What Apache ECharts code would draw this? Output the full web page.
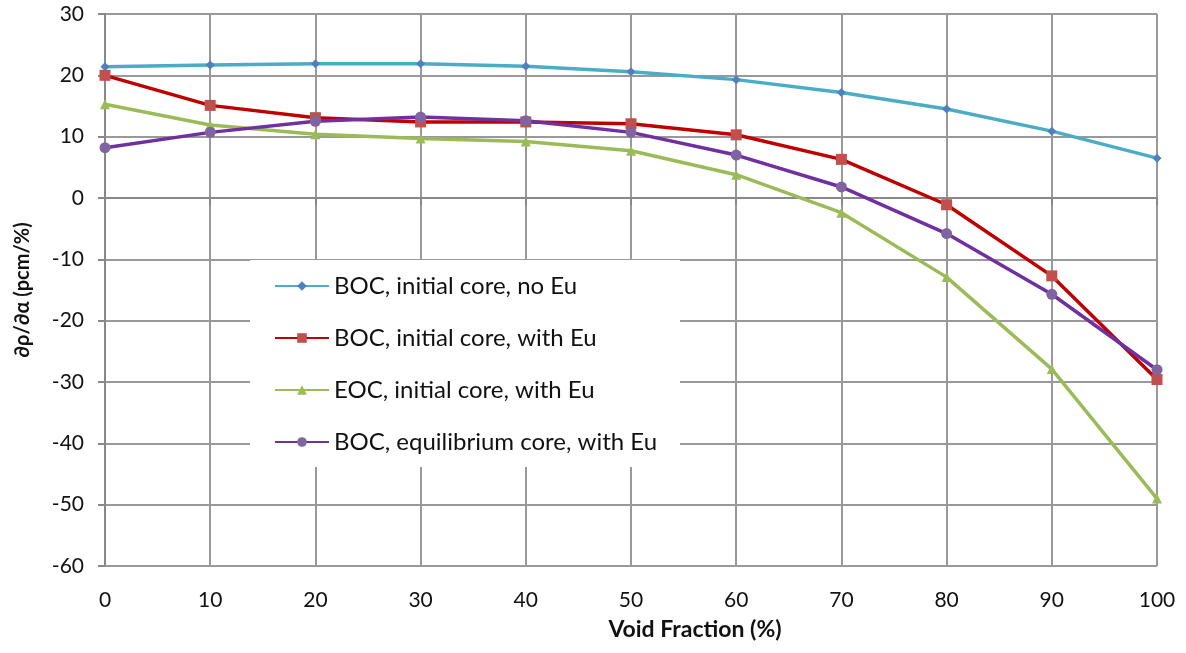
<!DOCTYPE html>
<html><head><meta charset="utf-8">
<script src="https://cdn.jsdelivr.net/npm/echarts@6/dist/echarts.min.js"></script>
<style>html,body{margin:0;padding:0;background:#fff}#c{width:1186px;height:653px}</style>
</head><body><div id="c"></div>
<script>
const voidFraction = [0,10,20,30,40,50,60,70,80,90,100];
const bocInitialNoEu = [21.4,21.7,21.9,21.9,21.5,20.6,19.3,17.2,14.5,10.9,6.5];
const bocInitialWithEu = [20.0,15.1,13.1,12.4,12.4,12.1,10.3,6.3,-1.1,-12.7,-29.6];
const eocInitialWithEu = [15.3,11.9,10.4,9.7,9.2,7.7,3.8,-2.4,-12.9,-27.9,-49.0];
const bocEquilibriumWithEu = [8.2,10.7,12.5,13.2,12.6,10.7,7.0,1.8,-5.8,-15.7,-28.0];
const seriesNames = ['BOC, initial core, no Eu','BOC, initial core, with Eu','EOC, initial core, with Eu','BOC, equilibrium core, with Eu'];

const pair = arr => voidFraction.map((x,i)=>[x,arr[i]]);
const font = 'Lato, "Open Sans", sans-serif';
const chart = echarts.init(document.getElementById('c'), null, {renderer:'canvas'});
const mk = (name, data, lineColor, markColor, symbol, size) => ({
  name, type:'line', data: pair(data), symbol, symbolSize:size, showSymbol:true,
  lineStyle:{color:lineColor,width:3.5}, itemStyle:{color:markColor,borderWidth:0},
  emphasis:{disabled:true}, animation:false, z: 3
});
chart.setOption({
  animation:false,
  textStyle:{fontFamily:font},
  grid:{left:105,right:29,top:14,bottom:87,containLabel:false},
  legend:{
    orient:'vertical', left:250, top:260, itemWidth:54, itemHeight:12, itemGap:28,
    backgroundColor:'#fff', padding:[14,23,13,24],
    textStyle:{fontFamily:font,fontSize:24,color:'#111'},
    data:seriesNames
  },
  xAxis:{type:'value',min:0,max:100,interval:10,
    name:'Void Fraction (%)',nameLocation:'middle',nameGap:52,
    nameTextStyle:{fontFamily:font,fontSize:23,fontWeight:'bold',color:'#111',padding:[0,0,0,128]},
    axisLine:{show:true,lineStyle:{color:'#888',width:2}},
    axisTick:{show:true,length:7,lineStyle:{color:'#888',width:2}},
    axisLabel:{fontFamily:font,fontSize:21,color:'#111',margin:24},
    splitLine:{show:true,lineStyle:{color:'#999',width:2}}
  },
  yAxis:{type:'value',min:-60,max:30,interval:10,
    name:'∂ρ/∂α (pcm/%)',nameLocation:'middle',nameGap:72,nameRotate:90,
    nameTextStyle:{fontFamily:font,fontSize:20,fontWeight:'bold',color:'#111'},
    axisLine:{show:true,lineStyle:{color:'#888',width:2}},
    axisTick:{show:true,length:7,lineStyle:{color:'#888',width:2}},
    axisLabel:{fontFamily:font,fontSize:21,color:'#111',margin:21},
    splitLine:{show:true,lineStyle:{color:'#999',width:2}}
  },
  series:[
    mk(seriesNames[0], bocInitialNoEu, '#4BACC6', '#4F81BD', 'diamond', 9),
    mk(seriesNames[1], bocInitialWithEu, '#C00000', '#C0504D', 'rect', 11),
    mk(seriesNames[2], eocInitialWithEu, '#9BBB59', '#9BBB59', 'triangle', 10),
    mk(seriesNames[3], bocEquilibriumWithEu, '#7030A0', '#8064A2', 'circle', 11)
  ]
});
</script></body></html>
